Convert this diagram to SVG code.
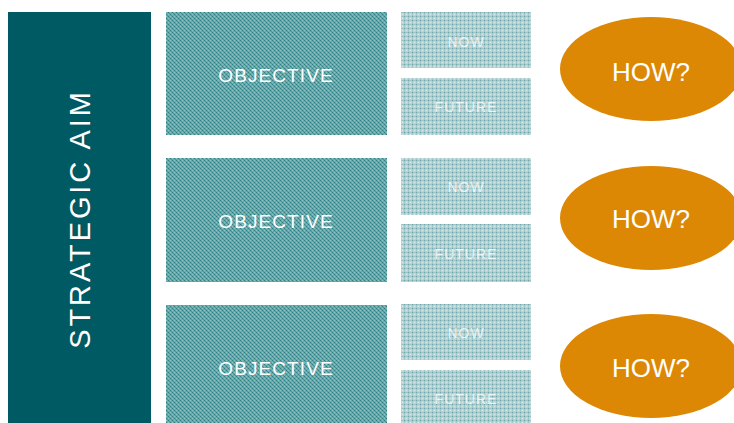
<svg xmlns="http://www.w3.org/2000/svg" width="734" height="423" viewBox="0 0 734 423">
<defs>
<pattern id="objPat" width="4" height="4" patternUnits="userSpaceOnUse">
<rect width="4" height="4" fill="#6AAAAC"/>
<rect x="0" y="0" width="1" height="1" fill="#2E7F84"/>
<rect x="2" y="2" width="1" height="1" fill="#2E7F84"/>
<rect x="2" y="0" width="1" height="1" fill="#8CC2C3"/>
<rect x="0" y="2" width="1" height="1" fill="#8CC2C3"/>
<rect x="1" y="1" width="1" height="1" fill="#4E9497"/>
<rect x="3" y="3" width="1" height="1" fill="#4E9497"/>
</pattern>
<pattern id="nowPat" width="4" height="4" patternUnits="userSpaceOnUse">
<rect width="4" height="4" fill="#B8D6D8"/>
<rect x="0" y="0" width="4" height="1" fill="#A0C6C9"/>
<rect x="0" y="0" width="1" height="4" fill="#A0C6C9"/>
<rect x="0" y="0" width="1" height="1" fill="#6FA6AA"/>
<rect x="2" y="2" width="1" height="1" fill="#D8EAEA"/>
</pattern>
<style>
.aim{fill:#005A64}
.obj{fill:url(#objPat)}
.sub{fill:url(#nowPat)}
.how{fill:#DD8804}
.t{font-family:"Liberation Sans",Arial,sans-serif;fill:#FFFFFF;text-anchor:middle}
.tobj{font-size:19px;letter-spacing:1.1px}
.tsub{font-size:14px;letter-spacing:1px;fill-opacity:0.75}
.thow{font-size:26px}
.taim{font-size:29px;letter-spacing:2.9px}
</style>
</defs>
<rect width="734" height="423" fill="#FFFFFF"/>
<g id="strategic-aim">
<rect class="aim" x="8" y="12" width="143" height="411"/>
<text class="t taim" transform="translate(90,219) rotate(-90)">STRATEGIC AIM</text>
</g>
<g id="objective-1">
<rect class="obj" x="166" y="12" width="221" height="123"/>
<text class="t tobj" x="276" y="82">OBJECTIVE</text>
</g>
<g id="objective-2">
<rect class="obj" x="166" y="158" width="221" height="124"/>
<text class="t tobj" x="276" y="228">OBJECTIVE</text>
</g>
<g id="objective-3">
<rect class="obj" x="166" y="305" width="221" height="118"/>
<text class="t tobj" x="276" y="375">OBJECTIVE</text>
</g>
<g id="now-1">
<rect class="sub" x="401" y="12" width="130" height="56"/>
<text class="t tsub" x="466" y="47">NOW</text>
</g>
<g id="future-1">
<rect class="sub" x="401" y="78" width="130" height="57"/>
<text class="t tsub" x="466" y="112">FUTURE</text>
</g>
<g id="now-2">
<rect class="sub" x="401" y="158" width="130" height="57"/>
<text class="t tsub" x="466" y="192">NOW</text>
</g>
<g id="future-2">
<rect class="sub" x="401" y="224" width="130" height="58"/>
<text class="t tsub" x="466" y="259">FUTURE</text>
</g>
<g id="now-3">
<rect class="sub" x="401" y="304" width="130" height="56"/>
<text class="t tsub" x="466" y="338">NOW</text>
</g>
<g id="future-3">
<rect class="sub" x="401" y="370" width="130" height="53"/>
<text class="t tsub" x="466" y="404">FUTURE</text>
</g>
<g id="how-1">
<ellipse class="how" cx="651" cy="69" rx="91" ry="52"/>
<text class="t thow" x="651" y="81">HOW?</text>
</g>
<g id="how-2">
<ellipse class="how" cx="651" cy="218" rx="91" ry="52"/>
<text class="t thow" x="651" y="228">HOW?</text>
</g>
<g id="how-3">
<ellipse class="how" cx="651" cy="366" rx="91" ry="52"/>
<text class="t thow" x="651" y="377">HOW?</text>
</g>
<g id="connectors"></g>
</svg>
